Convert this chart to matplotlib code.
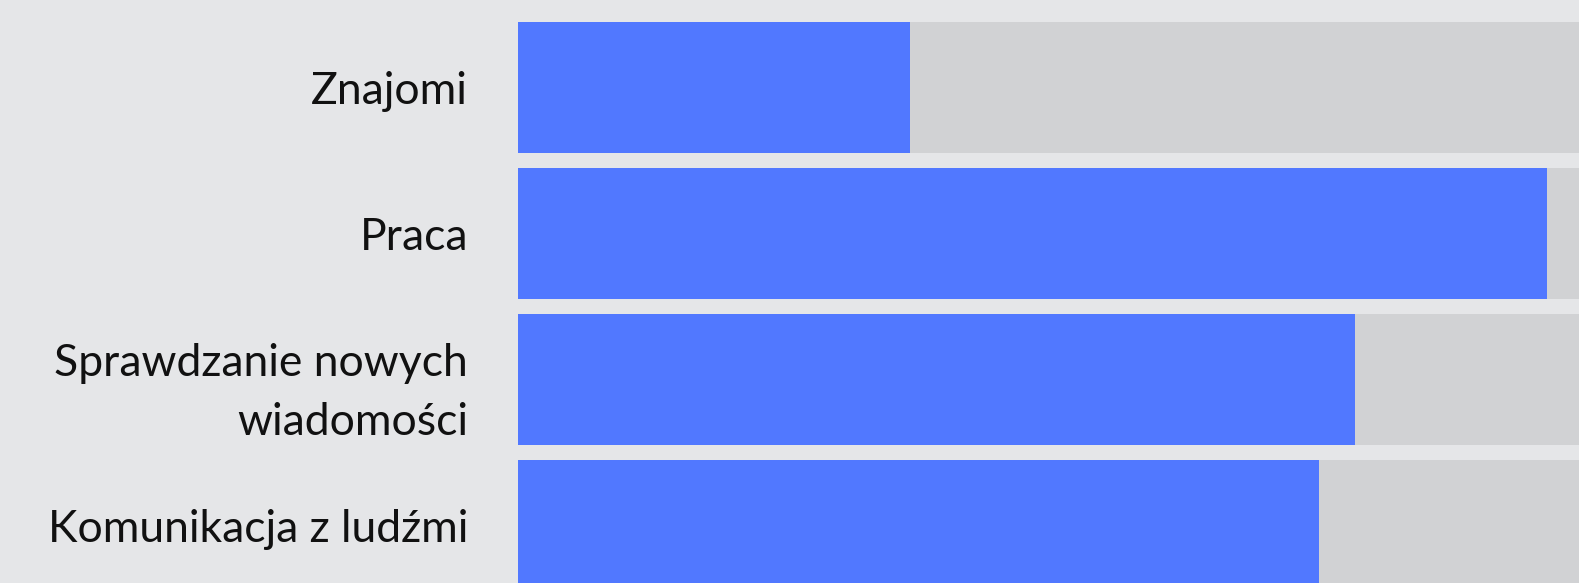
import matplotlib.pyplot as plt

# Chart data
categories = ["Znajomi", "Praca", "Sprawdzanie nowych\nwiadomości", "Komunikacja z ludźmi"]
values = [36.9, 97.0, 78.9, 75.5]
track_max = 100

bg_color = "#E5E6E8"
bar_color = "#5178FF"
track_color = "#D1D2D4"

plt.rcParams['font.family'] = ['Lato', 'DejaVu Sans']

fig = plt.figure(figsize=(15.79, 5.83), dpi=100, facecolor=bg_color)
left = 518 / 1579
ax = fig.add_axes([left, 0, 1 - left, 1])
ax.set_facecolor(bg_color)

pitch = 146.0
bar_h = 131.0 / pitch
ypos = list(range(len(categories)))

# grey track behind, blue value bar on top
ax.barh(ypos, [track_max] * len(categories), height=bar_h, color=track_color, linewidth=0)
ax.barh(ypos, values, height=bar_h, color=bar_color, linewidth=0)

ax.set_xlim(0, track_max)
ax.set_ylim((583 - 87.5) / pitch, -87.5 / pitch)

ax.set_yticks(ypos)
ax.set_yticklabels(categories, fontsize=32, color="#111111", linespacing=1.55)
ax.tick_params(axis='y', length=0, pad=36)
ax.tick_params(axis='x', bottom=False, labelbottom=False)
for s in ax.spines.values():
    s.set_visible(False)

fig.savefig("out.png", dpi=100, facecolor=bg_color)
